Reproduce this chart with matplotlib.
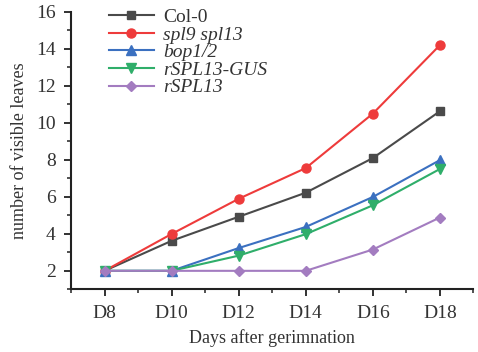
import matplotlib
matplotlib.use("Agg")
import matplotlib.pyplot as plt
import numpy as np
from matplotlib.ticker import MultipleLocator

days = ["D8", "D10", "D12", "D14", "D16", "D18"]
col0 = [2.0, 3.62, 4.92, 6.22, 8.09, 10.62]
spl9_spl13 = [2.0, 3.99, 5.89, 7.55, 10.49, 14.19]
spl9_spl13_err = [0.0, 0.0, 0.0, 0.0, 0.0, 0.15]
bop12 = [2.0, 2.0, 3.23, 4.37, 5.99, 7.98]
rspl13_gus = [2.0, 2.0, 2.82, 3.98, 5.54, 7.50]
rspl13 = [2.0, 2.0, 2.0, 2.0, 3.15, 4.88]

series = [
    ("Col-0", col0, "s", "#4a4a4a", "normal"),
    ("spl9 spl13", spl9_spl13, "o", "#ee3b3b", "italic"),
    ("bop1/2", bop12, "^", "#3b70c0", "italic"),
    ("rSPL13-GUS", rspl13_gus, "v", "#2fae6a", "italic"),
    ("rSPL13", rspl13, "D", "#a37cc0", "italic"),
]

plt.rcParams["font.family"] = ["Liberation Serif", "DejaVu Serif"]

fig = plt.figure(figsize=(4.78, 3.52), dpi=100)
ax = fig.add_axes([0.1485, 0.178, 0.842, 0.789])
x = np.arange(len(days))

for label, vals, marker, color, style in series:
    ms = {"D": 5.5, "s": 5.5}.get(marker, 6.5)
    ax.plot(x, vals, marker=marker, color=color, lw=1.5, ms=ms, label=label)
ax.errorbar(x[-1:], spl9_spl13[-1:], yerr=spl9_spl13_err[-1:], fmt="none",
            ecolor="#ee3b3b", capsize=2, lw=1)

ax.set_xlim(-0.5, 5.5)
ax.set_ylim(1, 16)
ax.set_xticks(x, days)
ax.xaxis.set_minor_locator(MultipleLocator(0.5))
ax.yaxis.set_minor_locator(MultipleLocator(1))
ax.set_yticks(range(2, 17, 2))
for side in ("top", "right"):
    ax.spines[side].set_visible(False)
for side in ("left", "bottom"):
    ax.spines[side].set_linewidth(1.5)
    ax.spines[side].set_color("#222222")
ax.tick_params(which="major", length=5, width=1.3, labelsize=14, colors="#222222",
               labelcolor="#333333")
ax.tick_params(axis="x", which="major", pad=6.5)
ax.tick_params(axis="y", which="major", pad=6)
ax.tick_params(which="minor", length=3, width=1.1, colors="#222222")
ax.set_xlabel("Days after gerimnation", fontsize=13, color="#333333", labelpad=5)
ax.set_ylabel("number of visible leaves", fontsize=13, color="#333333", labelpad=6)

leg = ax.legend(loc="upper left", bbox_to_anchor=(0.075, 1.04), frameon=False,
                fontsize=14, handlelength=2.3, handletextpad=0.5,
                labelspacing=0.0, borderaxespad=0)
for text, (_, _, _, _, style) in zip(leg.get_texts(), series):
    text.set_fontstyle(style)
    text.set_color("#333333")

fig.savefig("out.png", dpi=100)
